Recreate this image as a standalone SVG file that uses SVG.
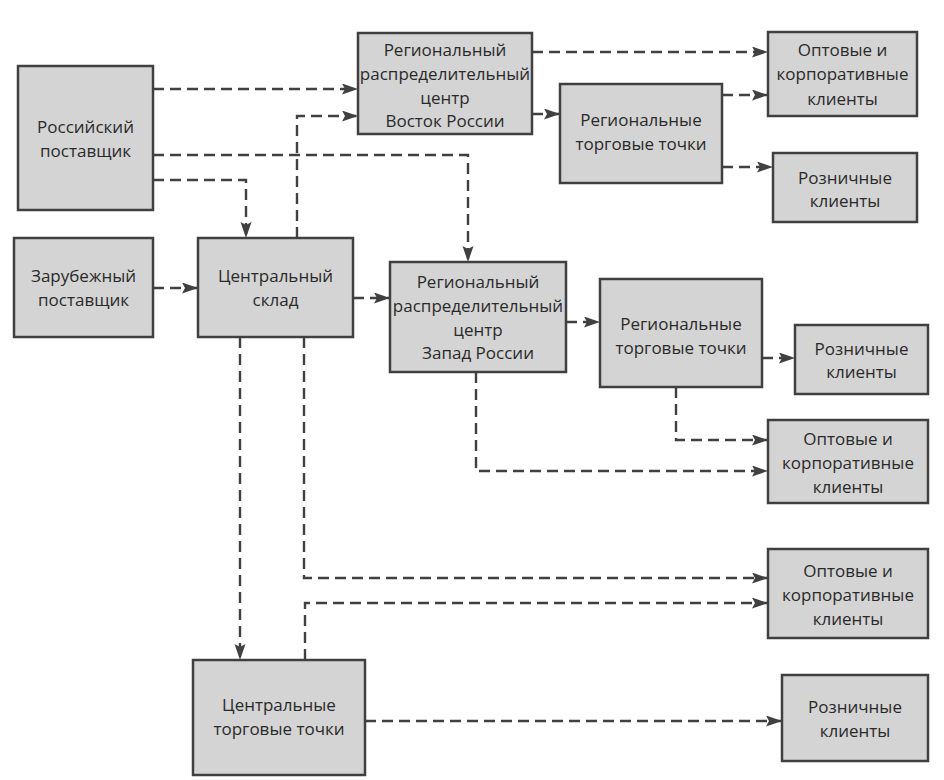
<svg xmlns="http://www.w3.org/2000/svg" width="944" height="780" viewBox="0 0 944 780">
<defs>
<marker id="ah" markerUnits="userSpaceOnUse" markerWidth="18" markerHeight="12" refX="16" refY="5.5" orient="auto">
<path d="M0,0 L16,5.5 L0,11 L3,5.5 Z" fill="#404040"/>
</marker>
<style>
.box{fill:#d4d4d4;stroke:#404040;stroke-width:2.5}
.t{font-family:"Open Sans","Liberation Sans",sans-serif;font-size:17px;fill:#2a2a2a;text-anchor:middle}
.c{fill:none;stroke:#404040;stroke-width:2.4;stroke-dasharray:11 6;marker-end:url(#ah)}
</style>
</defs>
<rect width="944" height="780" fill="#ffffff"/>
<g id="connectors">
<path class="c" d="M153,89 H358"/>
<path class="c" d="M297,238 V116 H358"/>
<path class="c" d="M153,155 H468 V262"/>
<path class="c" d="M153,180 H246 V238"/>
<path class="c" d="M153,288 H198"/>
<path class="c" d="M353,298 H390"/>
<path class="c" d="M532,52 H768"/>
<path class="c" d="M532,114 H560"/>
<path class="c" d="M722,95 H768"/>
<path class="c" d="M722,167 H773"/>
<path class="c" d="M566,322 H600"/>
<path class="c" d="M762,358 H795"/>
<path class="c" d="M676,387 V440 H768"/>
<path class="c" d="M476,372 V471 H768"/>
<path class="c" d="M240,337 V660"/>
<path class="c" d="M304,337 V578 H768"/>
<path class="c" d="M305,660 V603 H768"/>
<path class="c" d="M365,721 H782"/>
</g>
<g id="ru-supplier"><rect class="box" x="18" y="66" width="135" height="144"/>
<text class="t" x="85.5" y="133">Российский</text><text class="t" x="85.5" y="157">поставщик</text></g>
<g id="foreign-supplier"><rect class="box" x="14" y="238" width="139" height="99"/>
<text class="t" x="83.5" y="282">Зарубежный</text><text class="t" x="83.5" y="306">поставщик</text></g>
<g id="central-warehouse"><rect class="box" x="198" y="238" width="155" height="99"/>
<text class="t" x="275.5" y="282">Центральный</text><text class="t" x="275.5" y="306">склад</text></g>
<g id="rdc-east"><rect class="box" x="358" y="33" width="174" height="101"/>
<text class="t" x="445" y="56">Региональный</text><text class="t" x="445" y="80">распределительный</text><text class="t" x="445" y="104">центр</text><text class="t" x="445" y="127">Восток России</text></g>
<g id="reg-tt-east"><rect class="box" x="560" y="84" width="162" height="99"/>
<text class="t" x="641" y="126">Региональные</text><text class="t" x="641" y="150">торговые точки</text></g>
<g id="wholesale-1"><rect class="box" x="768" y="32" width="149" height="84"/>
<text class="t" x="842.5" y="56">Оптовые и</text><text class="t" x="842.5" y="80">корпоративные</text><text class="t" x="842.5" y="105">клиенты</text></g>
<g id="retail-1"><rect class="box" x="773" y="153" width="144" height="69"/>
<text class="t" x="845" y="184">Розничные</text><text class="t" x="845" y="207">клиенты</text></g>
<g id="rdc-west"><rect class="box" x="390" y="262" width="176" height="110"/>
<text class="t" x="478" y="288">Региональный</text><text class="t" x="478" y="312">распределительный</text><text class="t" x="478" y="336">центр</text><text class="t" x="478" y="359">Запад России</text></g>
<g id="reg-tt-west"><rect class="box" x="600" y="279" width="162" height="108"/>
<text class="t" x="681" y="330">Региональные</text><text class="t" x="681" y="354">торговые точки</text></g>
<g id="retail-2"><rect class="box" x="795" y="325" width="133" height="69"/>
<text class="t" x="861.5" y="355">Розничные</text><text class="t" x="861.5" y="378">клиенты</text></g>
<g id="wholesale-2"><rect class="box" x="768" y="420" width="160" height="83"/>
<text class="t" x="848" y="445">Оптовые и</text><text class="t" x="848" y="469">корпоративные</text><text class="t" x="848" y="493">клиенты</text></g>
<g id="wholesale-3"><rect class="box" x="768" y="549" width="160" height="89"/>
<text class="t" x="848" y="577">Оптовые и</text><text class="t" x="848" y="601">корпоративные</text><text class="t" x="848" y="625">клиенты</text></g>
<g id="central-tt"><rect class="box" x="193" y="660" width="172" height="115"/>
<text class="t" x="279" y="711">Центральные</text><text class="t" x="279" y="735">торговые точки</text></g>
<g id="retail-3"><rect class="box" x="782" y="675" width="146" height="86"/>
<text class="t" x="855" y="713">Розничные</text><text class="t" x="855" y="737">клиенты</text></g>
</svg>
